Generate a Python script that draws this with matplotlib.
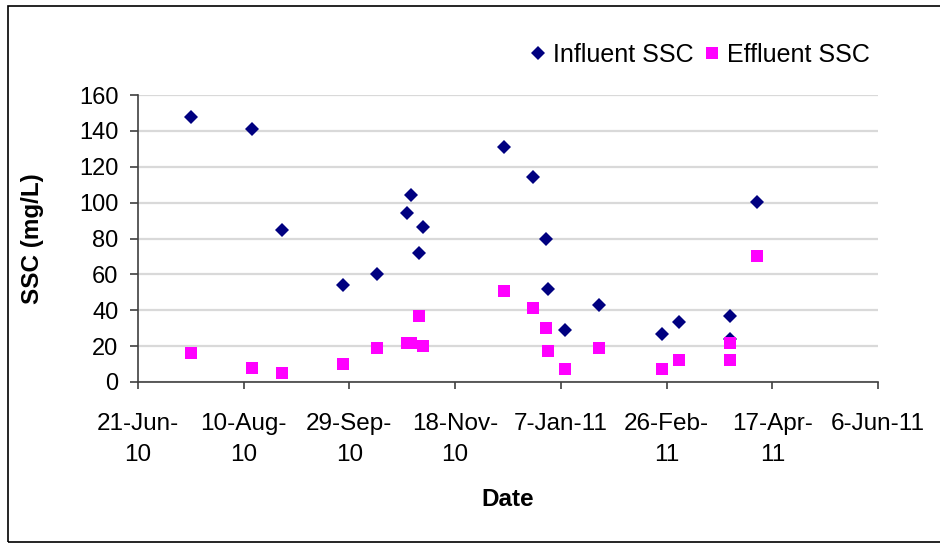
import matplotlib.pyplot as plt
import matplotlib.dates as mdates
from matplotlib.patches import Rectangle
import numpy as np
from datetime import datetime, timedelta

plt.rcParams['font.family'] = ['Liberation Sans', 'DejaVu Sans']

# sampling dates and suspended sediment concentrations (mg/L)
dates = ["2010-07-16", "2010-08-14", "2010-08-28", "2010-09-26", "2010-10-12",
         "2010-10-26", "2010-10-28", "2010-11-01", "2010-11-03", "2010-12-11",
         "2010-12-25", "2010-12-31", "2011-01-01", "2011-01-09", "2011-01-25",
         "2011-02-24", "2011-03-04", "2011-03-28", "2011-03-28", "2011-04-10"]
influent = [148, 141, 85, 54, 60, 94, 104, 72, 86.5, 131,
            114.5, 80, 52, 29, 43, 27, 33.5, 37, 24, 100.5]
effluent = [16, 8, 5, 10, 19, 22, 22, 37, 20, 51,
            41.5, 30, 17.5, 7, 19, 7, 12, 22, 12.5, 70]

tick_labels = ["21-Jun-\n10", "10-Aug-\n10", "29-Sep-\n10", "18-Nov-\n10",
               "7-Jan-11", "26-Feb-\n11", "17-Apr-\n11", "6-Jun-11"]

x = [datetime.strptime(d, "%Y-%m-%d") for d in dates]
start = datetime(2010, 6, 21)
ticks = [start + timedelta(days=50 * i) for i in range(8)]

fig = plt.figure(figsize=(9.4, 5.43), dpi=100)
ax = fig.add_axes([138 / 940, 161 / 543, 740 / 940, 287 / 543])

ax.plot(x, influent, linestyle='none', marker='D', ms=7.5, mew=0,
        color='#000080', label='Influent SSC')
ax.plot(x, effluent, linestyle='none', marker='s', ms=8.2, mew=0,
        color='#ff00ff', label='Effluent SSC')

ax.set_xlim(ticks[0], ticks[-1])
ax.set_ylim(0, 160)
ax.set_yticks(np.arange(0, 161, 20))
ax.set_xticks(ticks)
ax.set_xticklabels(tick_labels, linespacing=1.55, va='top')

ax.grid(axis='y', color='#d9d9d9', linewidth=1.6)
ax.set_axisbelow(True)
for s in ['top', 'right']:
    ax.spines[s].set_visible(False)
for s in ['left', 'bottom']:
    ax.spines[s].set_color('#404040')
    ax.spines[s].set_linewidth(1.2)

ax.tick_params(axis='y', direction='out', length=6, width=1.2, color='#404040',
               pad=8, labelsize=17)
ax.tick_params(axis='x', direction='out', length=5, width=1.2, color='#404040',
               pad=17, labelsize=17.5)

ax.set_xlabel('Date', fontsize=17.5, fontweight='bold', labelpad=16)
ax.set_ylabel('SSC (mg/L)', fontsize=17.5, fontweight='bold', labelpad=25)

ax.legend(loc='lower right', bbox_to_anchor=(880 / 940, 466 / 543),
          bbox_transform=fig.transFigure, ncol=2, frameon=False,
          fontsize=18, handletextpad=0.15, columnspacing=0.3,
          handlelength=0.9, borderaxespad=0)

# chart frame
fig.patches.append(Rectangle((8 / 940, 1.5 / 543), 1.0, 536 / 543,
                             transform=fig.transFigure, fill=False,
                             edgecolor='black', linewidth=1.2))

fig.savefig('out.png', dpi=100)
